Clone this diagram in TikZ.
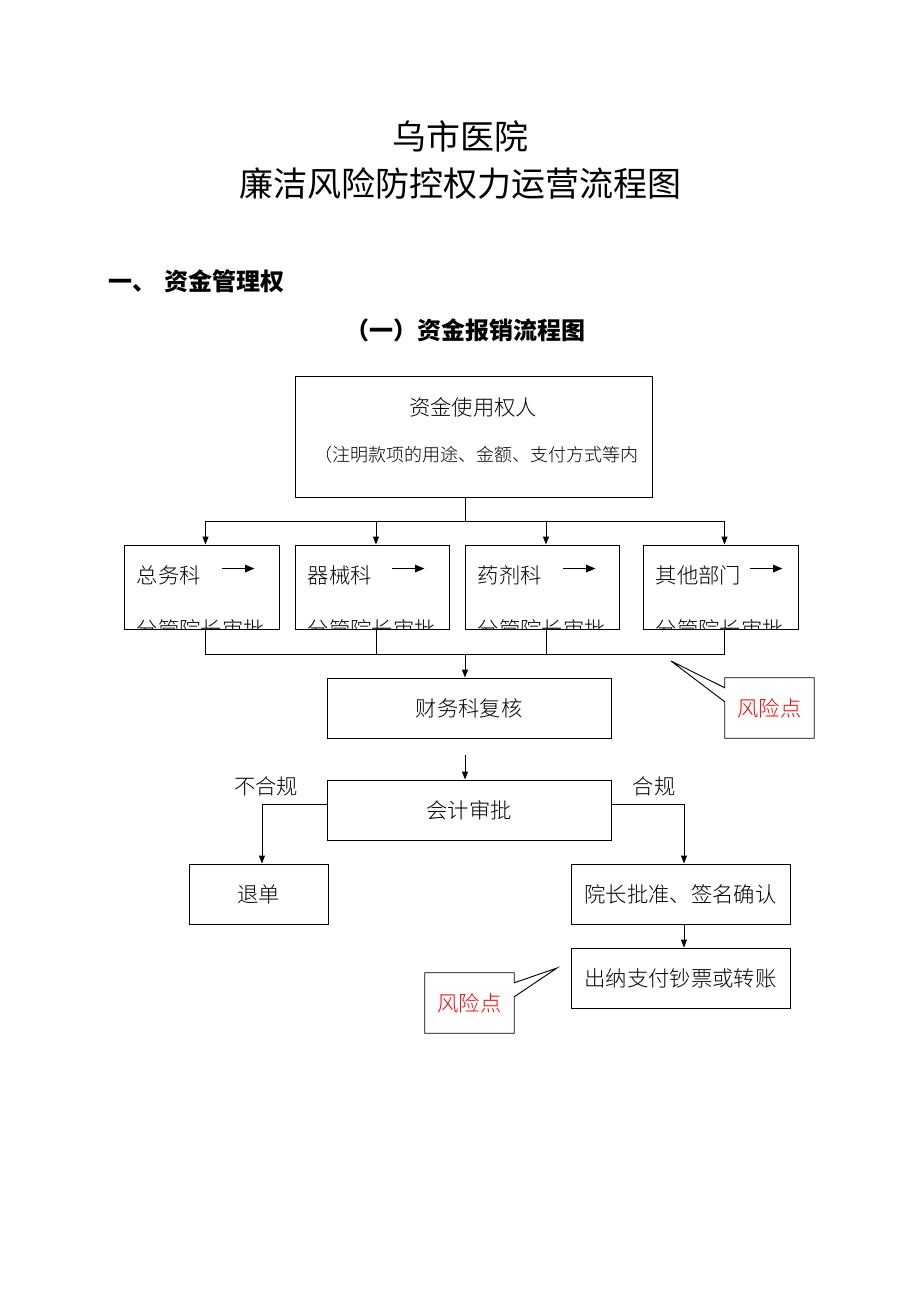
\documentclass[tikz,border=0pt]{standalone}
\usepackage{fontspec}
\usepackage{tikz}
\usetikzlibrary{arrows.meta,calc,positioning}
\newfontfamily\hei{Noto Sans CJK SC}
\newfontfamily\song{Noto Sans CJK SC}[UprightFont=* Light]
\newcommand{\pu}{0.75pt}

\begin{document}
\begin{tikzpicture}[x=0.75pt,y=-0.75pt,
    box/.style={rectangle, draw, line width=0.7pt, inner sep=0pt},
    txt/.style={font=\song\fontsize{16}{18}\selectfont, inner sep=0pt},
    risk/.style={font=\song\fontsize{16}{18}\selectfont, text=red, inner sep=0pt},
    line/.style={line width=0.7pt},
    arr/.style={line width=0.7pt, -{Triangle[length=6pt,width=4.5pt]}},
    smarr/.style={line width=1.1pt, -{Triangle[length=7pt,width=5.5pt]}}]
  \useasboundingbox (0,0) rectangle (920,1302);

  % titles
  \node[font=\hei\fontsize{25.5}{28}\selectfont] (title1) at (460,136) {乌市医院};
  \node[font=\hei\fontsize{25.5}{28}\selectfont] (title2) at (460,184) {廉洁风险防控权力运营流程图};
  \node[font=\hei\bfseries\fontsize{18}{20}\selectfont, anchor=west, inner sep=0pt] (sec) at (108,281) {一、\hspace{6pt}资金管理权};
  \node[font=\hei\bfseries\fontsize{18}{20}\selectfont] (sub) at (465,330) {（一）资金报销流程图};

  % applicant
  \node[box, minimum width=357*\pu, minimum height=121*\pu] (user) at (473.5,436.5) {};
  \node[txt] (user1) at (473,407) {资金使用权人};
  \node[txt, font=\song\fontsize{13.5}{15}\selectfont] (user2) at (476,455) {（注明款项的用途、金额、支付方式等内};

  % departments
  \node[box, minimum width=155*\pu, minimum height=84*\pu] (zwk) at (201.5,587) {};
  \node[box, minimum width=154*\pu, minimum height=84*\pu] (qxk) at (372,587) {};
  \node[box, minimum width=154*\pu, minimum height=84*\pu] (yjk) at (542,587) {};
  \node[box, minimum width=155*\pu, minimum height=84*\pu] (qtbm) at (720.5,587) {};

  \node[txt, anchor=west] (zwk1) at ($(zwk.north west)+(13,31)$) {总务科};
  \node[txt, anchor=west] (qxk1) at ($(qxk.north west)+(13,31)$) {器械科};
  \node[txt, anchor=west] (yjk1) at ($(yjk.north west)+(13,31)$) {药剂科};
  \node[txt, anchor=west] (qtbm1) at ($(qtbm.north west)+(13,31)$) {其他部门};

  \draw[smarr] ($(zwk.north west)+(98,24)$) -- ++(33,0);
  \draw[smarr] ($(qxk.north west)+(97,24)$) -- ++(33,0);
  \draw[smarr] ($(yjk.north west)+(98,24)$) -- ++(33,0);
  \draw[smarr] ($(qtbm.north west)+(107,24)$) -- ++(33,0);

  % second lines, cut by the box
  \begin{scope}
    \clip (zwk.north west) rectangle (zwk.south east);
    \node[txt, anchor=west] (zwk2) at ($(zwk.north west)+(13,85)$) {分管院长审批};
  \end{scope}
  \begin{scope}
    \clip (qxk.north west) rectangle (qxk.south east);
    \node[txt, anchor=west] (qxk2) at ($(qxk.north west)+(13,85)$) {分管院长审批};
  \end{scope}
  \begin{scope}
    \clip (yjk.north west) rectangle (yjk.south east);
    \node[txt, anchor=west] (yjk2) at ($(yjk.north west)+(13,85)$) {分管院长审批};
  \end{scope}
  \begin{scope}
    \clip (qtbm.north west) rectangle (qtbm.south east);
    \node[txt, anchor=west] (qtbm2) at ($(qtbm.north west)+(13,85)$) {分管院长审批};
  \end{scope}

  % finance steps
  \node[box, minimum width=284*\pu, minimum height=60*\pu] (cwk) at (469,708) {};
  \node[txt] (cwk1) at (cwk) {财务科复核};
  \node[box, minimum width=284*\pu, minimum height=60*\pu] (kj) at (469,810) {};
  \node[txt] (kj1) at (kj) {会计审批};
  \node[box, minimum width=139*\pu, minimum height=60*\pu] (td) at (258.5,894) {};
  \node[txt] (td1) at (td) {退单};
  \node[box, minimum width=219*\pu, minimum height=60*\pu] (yz) at (680.5,894) {};
  \node[txt] (yz1) at (yz) {院长批准、签名确认};
  \node[box, minimum width=219*\pu, minimum height=60*\pu] (cn) at (680.5,978) {};
  \node[txt] (cn1) at (cn) {出纳支付钞票或转账};

  \node[txt] (bhg) at (266,786) {不合规};
  \node[txt] (hg) at (654,786) {合规};

  % risk points
  \node[minimum width=89*\pu, minimum height=60*\pu, inner sep=0pt] (fx1) at (769.5,708) {};
  \node[risk] (fx1t) at (fx1) {风险点};
  \coordinate (tip1) at (671,661);
  \draw[line] (fx1.south west) -- ($(fx1.north west)+(0,24)$) -- (tip1) -- ($(fx1.north west)+(0,10)$)
    -- (fx1.north west) -- (fx1.north east) -- (fx1.south east) -- cycle;

  \node[minimum width=89*\pu, minimum height=60*\pu, inner sep=0pt] (fx2) at (469.5,1003) {};
  \node[risk] (fx2t) at (fx2) {风险点};
  \coordinate (tip2) at (557,968);
  \draw[line] (fx2.south east) -- ($(fx2.north east)+(0,24)$) -- (tip2) -- ($(fx2.north east)+(0,10)$)
    -- (fx2.north east) -- (fx2.north west) -- (fx2.south west) -- cycle;

  % connectors
  \coordinate (split) at (465,521);
  \coordinate (merge) at (465,654);
  \coordinate (gap) at (465,755);
  \draw[line] (split |- user.south) -- (split);
  \draw[arr] (split) -| ([xshift=3pt]zwk.north);
  \draw[arr] (split) -| ([xshift=3pt]qxk.north);
  \draw[arr] (split) -| ([xshift=3pt]yjk.north);
  \draw[arr] (split) -| ([xshift=3pt]qtbm.north);
  \draw[line] ([xshift=3pt]zwk.south) |- (merge);
  \draw[line] ([xshift=3pt]qxk.south) |- (merge);
  \draw[line] ([xshift=3pt]yjk.south) |- (merge);
  \draw[line] ([xshift=3pt]qtbm.south) |- (merge);
  \draw[arr] (merge) -- (merge |- cwk.north);
  \draw[arr] (gap) -- (gap |- kj.north);
  \draw[arr] ([yshift=4.5pt]kj.west) -| ([xshift=2.6pt]td.north);
  \draw[arr] ([yshift=4.5pt]kj.east) -| ([xshift=2.6pt]yz.north);
  \draw[arr] ([xshift=2.6pt]yz.south) -- ([xshift=2.6pt]cn.north);
\end{tikzpicture}
\end{document}
